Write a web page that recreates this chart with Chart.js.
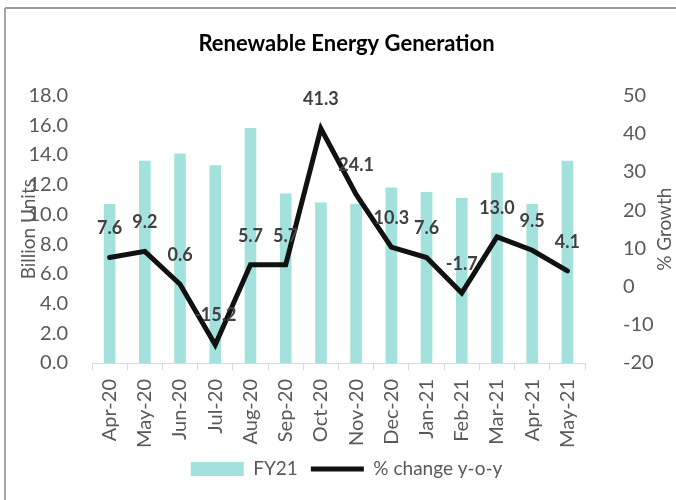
<!DOCTYPE html>
<html>
<head>
<meta charset="utf-8">
<script src="https://cdn.jsdelivr.net/npm/chart.js@4.4.0/dist/chart.umd.min.js"></script>
<style>
  html, body { margin: 0; padding: 0; background: #fff; }
</style>
</head>
<body>
<canvas id="chart" width="676" height="500"></canvas>
<script>
const months = ["Apr-20", "May-20", "Jun-20", "Jul-20", "Aug-20", "Sep-20", "Oct-20",
  "Nov-20", "Dec-20", "Jan-21", "Feb-21", "Mar-21", "Apr-21", "May-21"];
const generation = [10.7, 13.6, 14.1, 13.3, 15.8, 11.4, 10.8, 10.7, 11.8, 11.5, 11.1, 12.8, 10.7, 13.6];
const growth = [7.6, 9.2, 0.6, -15.2, 5.7, 5.7, 41.3, 24.1, 10.3, 7.6, -1.7, 13.0, 9.5, 4.1];

const FONT = "Lato";
const GREY = "#595959";

// grey frame on top and left, like the pasted excel chart
const frame = {
  id: "frame",
  beforeDraw(chart) {
    const ctx = chart.ctx;
    ctx.save();
    ctx.fillStyle = "#fff";
    ctx.fillRect(0, 0, chart.width, chart.height);
    ctx.strokeStyle = "#7a7a7a";
    ctx.lineWidth = 1.5;
    ctx.beginPath();
    ctx.moveTo(5, 8);
    ctx.lineTo(chart.width, 8);
    ctx.stroke();
    ctx.strokeStyle = "#a5a5a5";
    ctx.lineWidth = 2;
    ctx.beginPath();
    ctx.moveTo(5, 8);
    ctx.lineTo(5, chart.height);
    ctx.stroke();
    ctx.restore();
  }
};

const pointLabels = {
  id: "pointLabels",
  afterDatasetsDraw(chart) {
    const meta = chart.getDatasetMeta(1);
    const ctx = chart.ctx;
    ctx.save();
    ctx.font = "bold 18px " + FONT;
    ctx.fillStyle = "#404040";
    ctx.textAlign = "center";
    ctx.textBaseline = "middle";
    meta.data.forEach((pt, i) => {
      ctx.fillText(growth[i].toFixed(1), pt.x, pt.y - 29);
    });
    ctx.restore();
  }
};

// right axis title reads bottom to top in the original
const rightTitle = {
  id: "rightTitle",
  afterDraw(chart) {
    const s = chart.scales.y1;
    const ctx = chart.ctx;
    ctx.save();
    ctx.translate(s.right - 11, (s.top + s.bottom) / 2);
    ctx.rotate(-Math.PI / 2);
    ctx.font = "19px " + FONT;
    ctx.fillStyle = GREY;
    ctx.textAlign = "center";
    ctx.textBaseline = "middle";
    ctx.fillText("% Growth", 0, 0);
    ctx.restore();
  }
};

new Chart(document.getElementById("chart"), {
  data: {
    labels: months,
    datasets: [
      {
        type: "bar",
        label: "FY21",
        data: generation,
        backgroundColor: "#a3e2dc",
        categoryPercentage: 1,
        barPercentage: 0.33,
        yAxisID: "y",
        order: 1,
      },
      {
        type: "line",
        label: "% change y-o-y",
        data: growth,
        borderColor: "#111111",
        backgroundColor: "#111111",
        borderWidth: 5,
        borderCapStyle: "round",
        pointRadius: 0,
        tension: 0,
        yAxisID: "y1",
        order: 0,
      },
    ],
  },
  options: {
    responsive: false,
    animation: false,
    layout: {
      padding: { left: 17, right: 0, top: 10, bottom: 11.5 },
    },
    plugins: {
      tooltip: { enabled: false },
      title: {
        display: true,
        text: "Renewable Energy Generation",
        color: "#000",
        font: { family: FONT, size: 22, weight: "bold" },
        padding: { top: 21, bottom: 38 },
      },
      legend: {
        position: "bottom",
        labels: {
          usePointStyle: true,
          pointStyleWidth: 53,
          boxHeight: 14,
          padding: 13,
          color: GREY,
          font: { family: FONT, size: 19 },
          generateLabels(chart) {
            const items = Chart.defaults.plugins.legend.labels.generateLabels(chart);
            items.sort((a, b) => a.datasetIndex - b.datasetIndex);
            items.forEach((item) => {
              item.pointStyle = item.datasetIndex === 0 ? "rect" : "line";
            });
            return items;
          },
        },
      },
    },
    scales: {
      x: {
        offset: true,
        grid: {
          offset: true,
          drawOnChartArea: false,
          color: "#d9d9d9",
          tickLength: 7,
        },
        border: { color: "#d9d9d9" },
        ticks: {
          color: GREY,
          font: { family: FONT, size: 20 },
          minRotation: 90,
          maxRotation: 90,
          autoSkip: false,
          padding: 9,
        },
        afterFit(scale) {
          scale.height = 83.5;
        },
      },
      y: {
        position: "left",
        min: 0,
        max: 18,
        grid: { display: false, drawTicks: false },
        border: { display: false },
        ticks: {
          stepSize: 2,
          color: GREY,
          font: { family: FONT, size: 20 },
          padding: 24,
          callback: (v) => v.toFixed(1),
        },
        title: {
          display: true,
          text: "Billion Units",
          color: GREY,
          font: { family: FONT, size: 19 },
          padding: { top: 0, bottom: 0 },
        },
        afterFit(scale) {
          scale.width = 75;
        },
      },
      y1: {
        position: "right",
        min: -20,
        max: 50,
        grid: { display: false, drawTicks: false },
        border: { display: false },
        ticks: {
          stepSize: 10,
          color: GREY,
          font: { family: FONT, size: 20 },
          padding: 38,
        },
        afterFit(scale) {
          scale.width = 91;
        },
      },
    },
  },
  plugins: [frame, pointLabels, rightTitle],
});
</script>
</body>
</html>
